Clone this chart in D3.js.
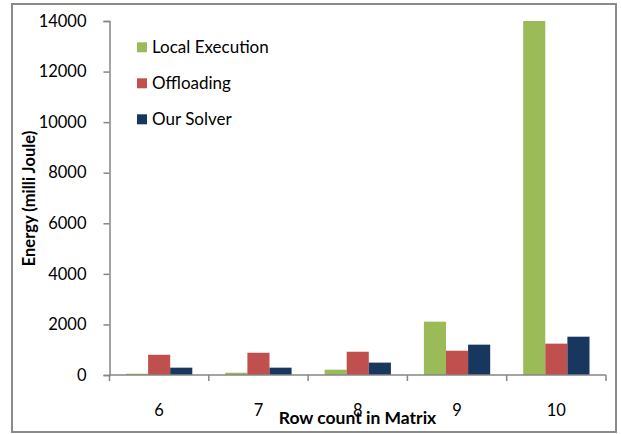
<!DOCTYPE html>
<html>
<head>
<meta charset="utf-8">
<script src="https://cdn.jsdelivr.net/npm/d3@7"></script>
<style>
  html, body { margin: 0; padding: 0; background: #fff; }
  svg { display: block; }
  text { font-family: Lato, "Open Sans", sans-serif; fill: #000; }
</style>
</head>
<body>
<svg id="chart" width="621" height="434"></svg>
<script>
// Energy per matrix size, three strategies
const categories = ["6", "7", "8", "9", "10"];
const seriesNames = ["Local Execution", "Offloading", "Our Solver"];
const localExecution = [50, 90, 210, 2110, 14000];
const offloading = [800, 880, 920, 960, 1240];
const ourSolver = [290, 290, 490, 1200, 1515];
const yTicks = [0, 2000, 4000, 6000, 8000, 10000, 12000, 14000];
const colors = ["#9BBB59", "#C0504D", "#17375E"];

const seriesValues = [localExecution, offloading, ourSolver];

const svg = d3.select("#chart");

// outer frame
svg.append("rect")
  .attr("x", 12).attr("y", 4).attr("width", 604).attr("height", 428)
  .attr("fill", "#fff").attr("stroke", "#8a8a8a").attr("stroke-width", 2);

const plot = { left: 109.5, right: 606, top: 21, bottom: 375 };

const x = d3.scaleBand().domain(categories).range([plot.left, plot.right]).padding(0);
const inner = d3.scaleBand().domain(seriesNames)
  .range([16.5, x.bandwidth() - 16.5]).padding(0);
const y = d3.scaleLinear().domain([0, 14000]).range([plot.bottom, plot.top]);

// bars
categories.forEach((cat, i) => {
  const g = svg.append("g").attr("transform", `translate(${x(cat)},0)`);
  seriesNames.forEach((s, j) => {
    const v = seriesValues[j][i];
    g.append("rect")
      .attr("x", inner(s))
      .attr("width", inner.bandwidth())
      .attr("y", y(v))
      .attr("height", y(0) - y(v))
      .attr("fill", colors[j]);
  });
});

// y axis
const yAxis = svg.append("g")
  .attr("transform", `translate(${plot.left},0)`)
  .call(d3.axisLeft(y).tickValues(yTicks).tickSize(6).tickPadding(17).tickFormat(d3.format("d")));
yAxis.select(".domain").attr("stroke", "#868686").attr("stroke-width", 1.5);
yAxis.selectAll(".tick line").attr("stroke", "#868686").attr("stroke-width", 1.5);
yAxis.selectAll(".tick text").style("font-family", "Lato, sans-serif").style("font-size", "16.5px").attr("fill", "#111");

// x axis with ticks at category boundaries
const xAxis = svg.append("g");
xAxis.append("line")
  .attr("x1", plot.left).attr("x2", plot.right)
  .attr("y1", y(0)).attr("y2", y(0))
  .attr("stroke", "#868686").attr("stroke-width", 1.5);
const boundaries = categories.map(c => x(c)).concat([x(categories[categories.length - 1]) + x.bandwidth()]);
xAxis.selectAll("line.tk").data(boundaries).enter().append("line")
  .attr("class", "tk")
  .attr("x1", d => d).attr("x2", d => d)
  .attr("y1", y(0)).attr("y2", y(0) + 6)
  .attr("stroke", "#868686").attr("stroke-width", 1.5);
xAxis.selectAll("text").data(categories).enter().append("text")
  .attr("x", d => x(d) + x.bandwidth() / 2)
  .attr("y", 416)
  .attr("text-anchor", "middle")
  .style("font-size", "16.5px")
  .attr("fill", "#111")
  .text(d => d);

// axis titles
svg.append("text")
  .attr("x", 357.5).attr("y", 424)
  .attr("text-anchor", "middle")
  .style("font-size", "17.5px").style("font-weight", "bold")
  .text("Row count in Matrix");

svg.append("text")
  .attr("transform", "translate(35,198.5) rotate(-90)")
  .attr("text-anchor", "middle")
  .style("font-size", "16.5px").style("font-weight", "bold")
  .text("Energy (milli Joule)");

// legend
const legend = svg.append("g");
seriesNames.forEach((s, j) => {
  const cy = 47.3 + j * 36;
  legend.append("rect")
    .attr("x", 137).attr("y", cy - 5).attr("width", 10).attr("height", 10)
    .attr("fill", colors[j]);
  legend.append("text")
    .attr("x", 152).attr("y", cy + 6)
    .style("font-size", "17px")
    .attr("fill", "#111")
    .text(s);
});
</script>
</body>
</html>
